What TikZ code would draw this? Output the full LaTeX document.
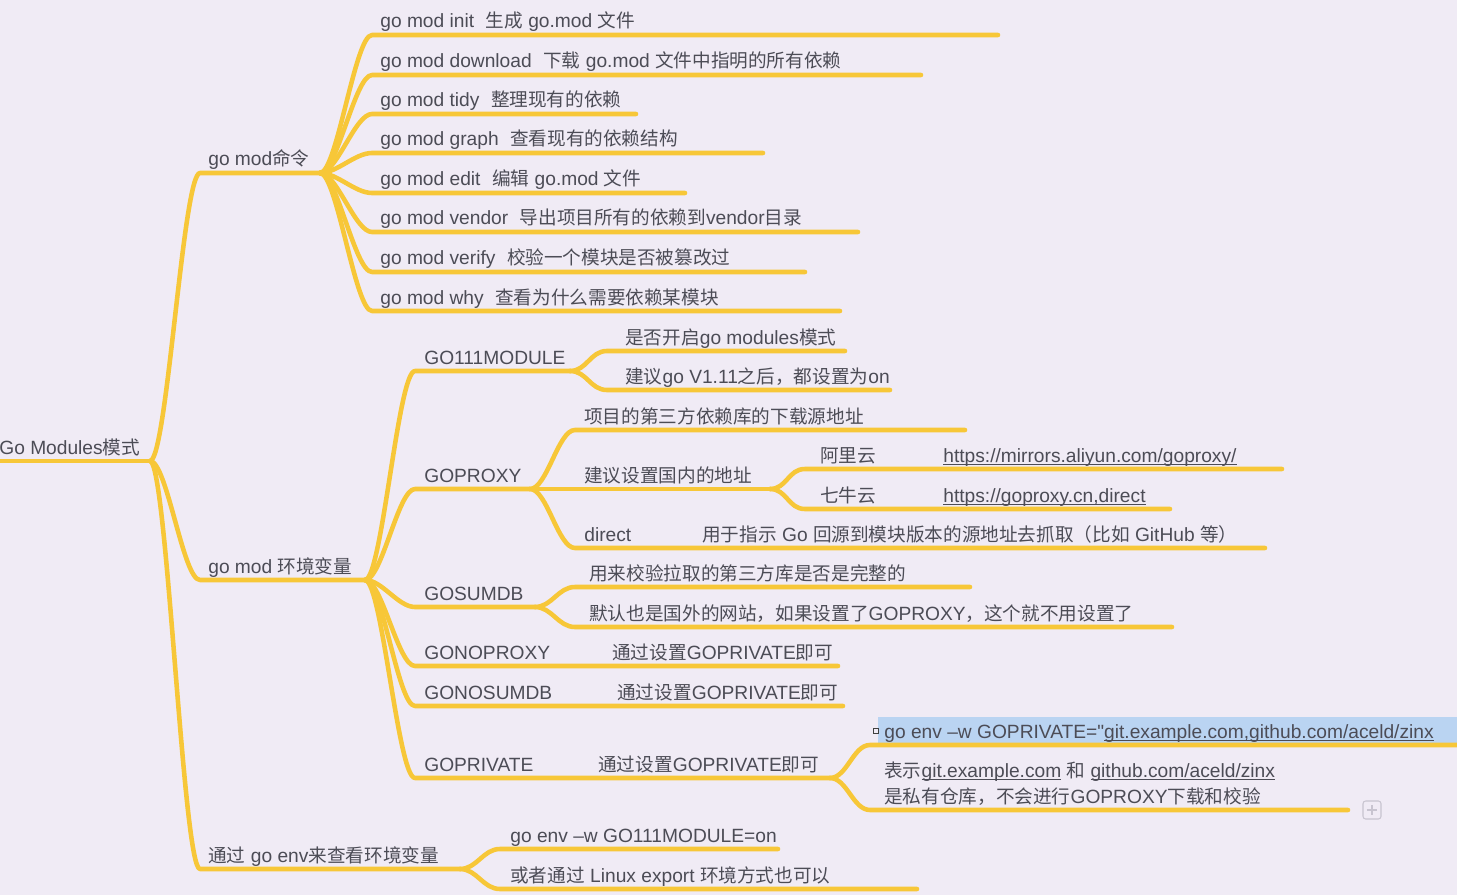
\documentclass[tikz,border=0pt]{standalone}
\usepackage{fontspec}
\usepackage{xcolor}
\usepackage{tikz}
\setmainfont{Liberation Sans}
\newfontfamily\latinfont[Scale=1.03]{Liberation Sans}
\newfontfamily\cjkfont{Noto Sans CJK SC}
\definecolor{branchyellow}{RGB}{247, 199, 56}
\definecolor{inkgray}{RGB}{76, 76, 86}
\definecolor{paperlilac}{RGB}{240, 235, 245}
\definecolor{selectblue}{RGB}{186, 212, 242}
\definecolor{buttongray}{RGB}{200, 196, 208}

% Han characters and full-width punctuation go to the CJK font
\XeTeXinterchartokenstate=1
\chardef\hanclass=10
\newcount\hancode
\def\sethanrange#1#2{\hancode=#1\relax
  \loop\XeTeXcharclass\hancode=\hanclass
  \ifnum\hancode<#2\relax\advance\hancode by 1\repeat}
\sethanrange{"3000}{"303F}
\sethanrange{"4E00}{"9FFF}
\sethanrange{"FF00}{"FFEF}
\XeTeXinterchartoks 0 \hanclass = {\cjkfont}
\XeTeXinterchartoks 4095 \hanclass = {\cjkfont}
\XeTeXinterchartoks \hanclass 0 = {\latinfont}
\XeTeXinterchartoks \hanclass 4095 = {\latinfont}

\tikzset{
    topic/.style={anchor=base west, inner sep=0pt, text=inkgray, font=\fontsize{10.6}{13}\selectfont\latinfont},
    branch/.style={draw=branchyellow, line width=2.6pt, line cap=round, line join=round},
    link/.style={to path={.. controls ([xshift=0.34cm]\tikztostart) and ([xshift=-0.34cm]\tikztotarget) .. (\tikztotarget)}},
}

% topic text, with the start and end of its underline
\newcommand{\mmnode}[6]{%
    \node[topic] (#1) at (#2,#3-7) {#6};
    \coordinate (#1-s) at (#4,#3);
    \coordinate (#1-e) at (#5,#3);
}
\newcommand{\mmgap}{\hspace{0.6em}}
\newsavebox{\mmlinkbox}
\newcommand{\mmlink}[1]{\sbox{\mmlinkbox}{#1}\rlap{\rule[-1.6pt]{\wd\mmlinkbox}{0.7pt}}\usebox{\mmlinkbox}}

\begin{document}
\begin{tikzpicture}[x=0.02cm, y=-0.02cm]
    % Canvas
    \fill[paperlilac] (0,0) rectangle (1457,895);
    \useasboundingbox (0,0) rectangle (1457,895);
    \fill[selectblue] (878,717) rectangle (1457,744);

    % Root and first level
    \mmnode{root}{-1}{461}{-5}{150}{Go Modules模式}
    \mmnode{cmd}{208}{173}{200}{320}{go mod命令}
    \mmnode{env}{208}{580}{200}{365}{go mod 环境变量}
    \mmnode{goenv}{208}{869}{200}{460}{通过 go env来查看环境变量}

    % go mod commands
    \mmnode{init}{380}{35}{372}{998}{go mod init\mmgap 生成 go.mod 文件}
    \mmnode{download}{380}{75}{372}{921}{go mod download\mmgap 下载 go.mod 文件中指明的所有依赖}
    \mmnode{tidy}{380}{114}{372}{636}{go mod tidy\mmgap 整理现有的依赖}
    \mmnode{graph}{380}{153}{372}{763}{go mod graph\mmgap 查看现有的依赖结构}
    \mmnode{edit}{380}{193}{372}{685}{go mod edit\mmgap 编辑 go.mod 文件}
    \mmnode{vendor}{380}{232}{372}{858}{go mod vendor\mmgap 导出项目所有的依赖到vendor目录}
    \mmnode{verify}{380}{272}{372}{805}{go mod verify\mmgap 校验一个模块是否被篡改过}
    \mmnode{why}{380}{311}{372}{840}{go mod why\mmgap 查看为什么需要依赖某模块}

    % environment variables
    \mmnode{go111}{424}{371}{415}{570}{GO111MODULE}
    \mmnode{goproxy}{424}{489}{415}{530}{GOPROXY}
    \mmnode{gosumdb}{424}{607}{415}{535}{GOSUMDB}
    \mmnode{gonoproxy}{424}{666}{415}{838}{GONOPROXY}
    \node[topic] (gonoproxy-d) at (612,659) {通过设置GOPRIVATE即可};
    \mmnode{gonosumdb}{424}{706}{415}{843}{GONOSUMDB}
    \node[topic] (gonosumdb-d) at (617,699) {通过设置GOPRIVATE即可};
    \mmnode{goprivate}{424}{778}{415}{830}{GOPRIVATE}
    \node[topic] (goprivate-d) at (598,771) {通过设置GOPRIVATE即可};

    \mmnode{modeon}{625}{351}{607}{845}{是否开启go modules模式}
    \mmnode{v111}{625}{390}{607}{890}{建议go V1.11之后，都设置为on}

    \mmnode{srcaddr}{584}{430}{575}{965}{项目的第三方依赖库的下载源地址}
    \mmnode{cnaddr}{584}{489}{575}{770}{建议设置国内的地址}
    \mmnode{direct}{584}{548}{575}{1265}{direct}
    \node[topic] (direct-d) at (702,541) {用于指示 Go 回源到模块版本的源地址去抓取（比如 GitHub 等）};
    \mmnode{aliyun}{820}{469}{805}{1282}{阿里云}
    \node[topic] (aliyun-url) at (943,462) {\mmlink{https://mirrors.aliyun.com/goproxy/}};
    \mmnode{qiniu}{820}{509}{805}{1170}{七牛云}
    \node[topic] (qiniu-url) at (943,502) {\mmlink{https://goproxy.cn,direct}};

    \mmnode{fullchk}{589}{587}{575}{970}{用来校验拉取的第三方库是否是完整的}
    \mmnode{nocfg}{589}{627}{575}{1172}{默认也是国外的网站，如果设置了GOPROXY，这个就不用设置了}

    \mmnode{setpriv}{884}{745}{870}{1462}{go env –w GOPRIVATE="\mmlink{git.example.com,github.com/aceld/zinx}}
    \node[draw=black!75, line width=0.5pt, minimum width=0.09cm, minimum height=0.11cm, inner sep=0pt] (caret) at (876,731) {};
    \mmnode{privrepo}{884}{810}{870}{1348}{是私有仓库，不会进行GOPROXY下载和校验}
    \node[topic] (privrepo-a) at (884,777) {表示\mmlink{git.example.com} 和 \mmlink{github.com/aceld/zinx}};
    \node[draw=buttongray, rounded corners=1.5pt, line width=0.6pt, minimum size=0.36cm, inner sep=0pt] (addbtn) at (1372,810) {};
    \draw[buttongray, line width=0.6pt] ([yshift=-2.5pt]addbtn.north) -- ([yshift=2.5pt]addbtn.south);
    \draw[buttongray, line width=0.6pt] ([xshift=2.5pt]addbtn.west) -- ([xshift=-2.5pt]addbtn.east);

    % go env
    \mmnode{envset}{510}{849}{500}{778}{go env –w GO111MODULE=on}
    \mmnode{export}{510}{889}{500}{917}{或者通过 Linux export 环境方式也可以}

    % Branches
    \draw[branch] (root-s) -- (root-e);
    \foreach \kid in {cmd,env,goenv}
        \draw[branch] (root-e) to[link] (\kid-s) -- (\kid-e);
    \foreach \kid in {init,download,tidy,graph,edit,vendor,verify,why}
        \draw[branch] (cmd-e) to[link] (\kid-s) -- (\kid-e);
    \foreach \kid in {go111,goproxy,gosumdb,gonoproxy,gonosumdb,goprivate}
        \draw[branch] (env-e) to[link] (\kid-s) -- (\kid-e);
    \foreach \kid in {modeon,v111}
        \draw[branch] (go111-e) to[link] (\kid-s) -- (\kid-e);
    \foreach \kid in {srcaddr,cnaddr,direct}
        \draw[branch] (goproxy-e) to[link] (\kid-s) -- (\kid-e);
    \foreach \kid in {aliyun,qiniu}
        \draw[branch] (cnaddr-e) to[link] (\kid-s) -- (\kid-e);
    \foreach \kid in {fullchk,nocfg}
        \draw[branch] (gosumdb-e) to[link] (\kid-s) -- (\kid-e);
    \foreach \kid in {setpriv,privrepo}
        \draw[branch] (goprivate-e) to[link] (\kid-s) -- (\kid-e);
    \foreach \kid in {envset,export}
        \draw[branch] (goenv-e) to[link] (\kid-s) -- (\kid-e);
\end{tikzpicture}
\end{document}
